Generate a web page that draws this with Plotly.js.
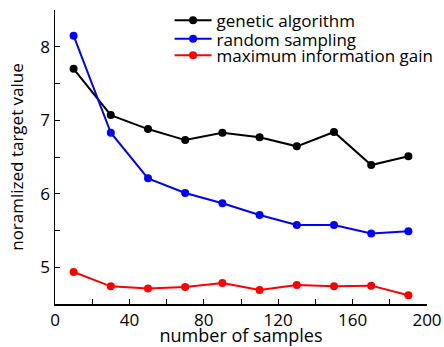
<!DOCTYPE html>
<html>
<head>
<meta charset="utf-8">
<script src="https://cdn.plot.ly/plotly-3.0.1.min.js"></script>
<style>html,body{margin:0;padding:0;background:#fff;}#chart{width:444px;height:347px;}</style>
</head>
<body>
<div id="chart"></div>
<script>
const samples = [10, 30, 50, 70, 90, 110, 130, 150, 170, 190];
const geneticAlgorithm = [7.70, 7.07, 6.88, 6.73, 6.83, 6.77, 6.645, 6.84, 6.39, 6.51];
const randomSampling = [8.15, 6.83, 6.21, 6.01, 5.87, 5.71, 5.575, 5.575, 5.46, 5.49];
const maxInfoGain = [4.935, 4.74, 4.71, 4.73, 4.785, 4.69, 4.76, 4.74, 4.75, 4.62];
const seriesNames = ["genetic algorithm", "random sampling", "maximum information gain"];
const xTickVals = [0, 40, 80, 120, 160, 200];
const yTickVals = [5, 6, 7, 8];

const font = "Open Sans, sans-serif";
function tr(y, name, color, leg) {
  return {
    x: samples, y: y, name: name, type: "scatter", mode: "lines+markers",
    legend: leg,
    line: {color: color, width: 2}, marker: {color: color, size: 8}
  };
}
const data = [
  tr(geneticAlgorithm, seriesNames[0], "#000000", "legend"),
  tr(randomSampling, seriesNames[1], "#0000ff", "legend2"),
  tr(maxInfoGain, seriesNames[2], "#ff0000", "legend3")
];
function leg(y) {
  return {x: 0.308, y: y, xanchor: "left", yanchor: "middle", bgcolor: "rgba(0,0,0,0)",
          font: {family: font, size: 17, color: "#000"}, itemwidth: 37};
}
const layout = {
  width: 444, height: 347,
  margin: {l: 55, r: 17, t: 10, b: 43, autoexpand: false},
  paper_bgcolor: "#fff", plot_bgcolor: "#fff",
  font: {family: font, size: 16, color: "#000"},
  showlegend: true,
  legend: leg(0.9636),
  legend2: leg(0.9003),
  legend3: leg(0.8446),
  xaxis: {
    range: [0, 200], tickvals: xTickVals, ticktext: xTickVals.map(String),
    ticks: "inside", ticklen: 5, tickwidth: 1, tickcolor: "#000",
    minor: {dtick: 20, ticks: "inside", ticklen: 5, tickwidth: 1, tickcolor: "#000"},
    showline: true, linecolor: "#000", linewidth: 1.5, mirror: false,
    showgrid: false, zeroline: false, automargin: false,
    tickfont: {family: font, size: 17},
    title: {text: "number of samples", font: {family: font, size: 18}, standoff: 6}
  },
  yaxis: {
    range: [4.5, 8.5], tickvals: yTickVals, ticktext: yTickVals.map(String),
    ticks: "inside", ticklen: 5, tickwidth: 1, tickcolor: "#000",
    minor: {dtick: 0.5, ticks: "inside", ticklen: 5, tickwidth: 1, tickcolor: "#000"},
    showline: true, linecolor: "#000", linewidth: 1.5, mirror: false,
    showgrid: false, zeroline: false, automargin: false,
    tickfont: {family: font, size: 17},
    title: {text: "noramlized target value", font: {family: font, size: 17}, standoff: 12}
  }
};
Plotly.newPlot("chart", data, layout, {displayModeBar: false, staticPlot: true});
</script>
</body>
</html>
